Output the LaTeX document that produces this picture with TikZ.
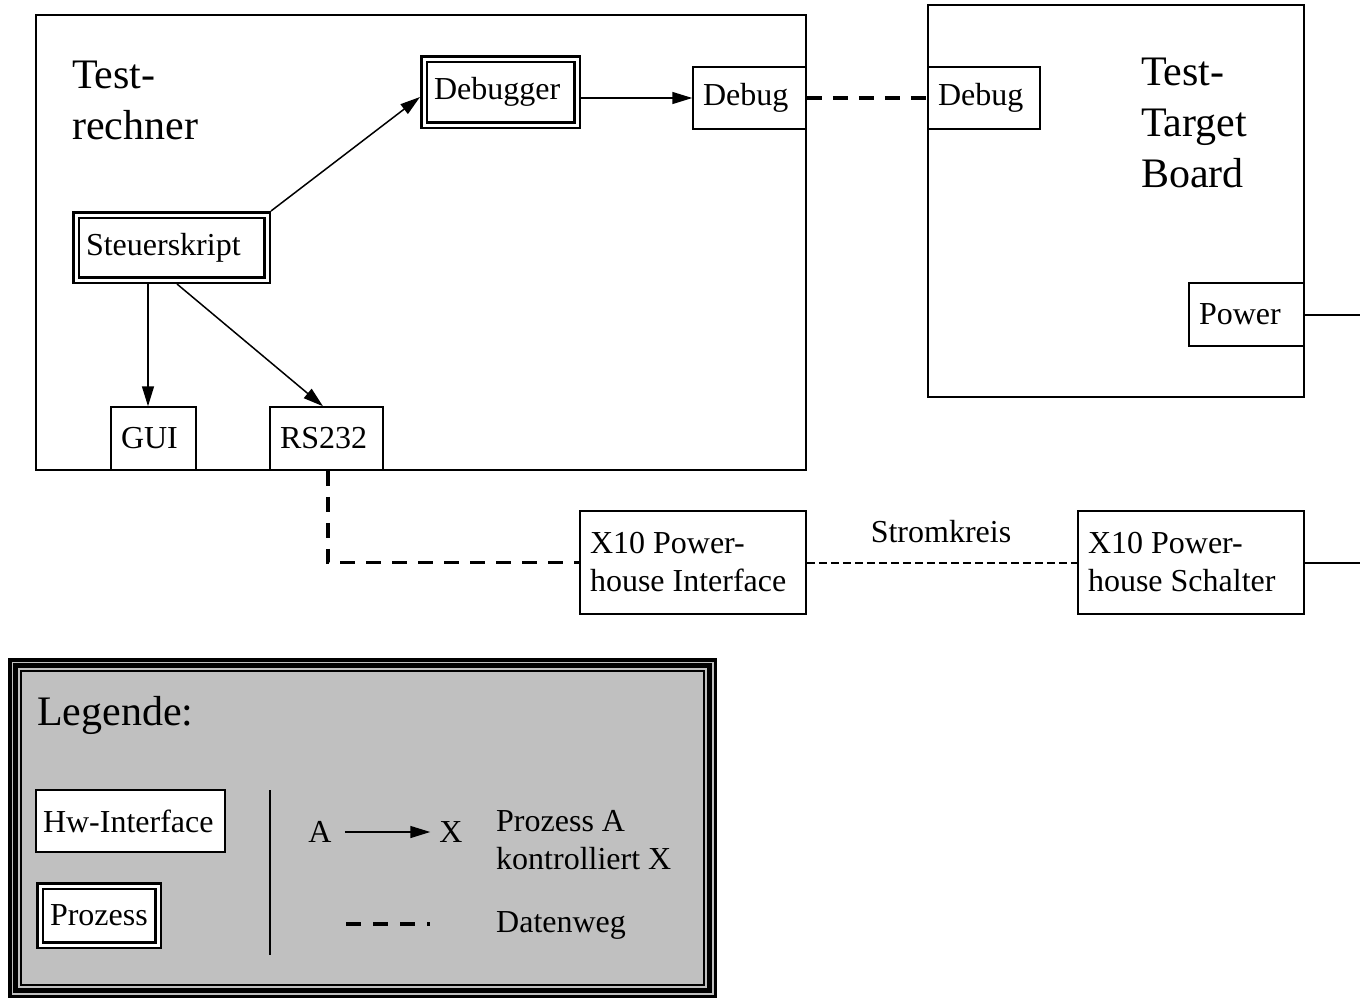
\documentclass[tikz,border=0pt]{standalone}
\usepackage{fontspec}
\setmainfont{Liberation Serif}
\usetikzlibrary{arrows.meta,calc}
\definecolor{leggray}{RGB}{192,192,192}
\tikzset{
  box/.style={draw, line width=1.5pt, fill=white, inner ysep=0pt, inner xsep=10pt, outer sep=0.75pt,
    align=flush left, font=\fontsize{32}{38}\selectfont},
  dbox/.style={draw, line width=2.5pt, double, double distance=3pt, fill=white, inner ysep=0pt, inner xsep=10pt, outer sep=4pt,
    align=flush left, font=\fontsize{32}{38}\selectfont},
  frame/.style={draw, line width=1.5pt, inner sep=0pt},
  big/.style={inner sep=0pt, align=flush left, font=\fontsize{42}{51}\selectfont},
  lbl/.style={inner sep=0pt, align=flush left, font=\fontsize{32}{38}\selectfont},
  arr/.style={line width=1.5pt, -{Triangle[length=20pt,width=12pt]}},
  data/.style={line width=3.5pt, dash pattern=on 15pt off 11pt},
  strom/.style={line width=2pt, dash pattern=on 8pt off 4pt},
  plain/.style={line width=2pt},
}
\begin{document}
\begin{tikzpicture}[x=1pt,y=-1pt]
\useasboundingbox (0,0) rectangle (1360,999);
% containers
\node[frame, minimum width=770pt, minimum height=455pt] (tr) at (421,242.5) {};
\node[frame, minimum width=376pt, minimum height=392pt] (tb) at (1116,201) {};
\node[big, anchor=west] (trl) at (72,100) {Test-\\rechner};
\node[big, anchor=west] (tbl) at (1141,123) {Test-\\Target\\Board};
% inner boxes
\node[dbox, text width=133pt, minimum height=66pt] (dbg) at (500.5,92) {Debugger};
\node[box, text width=93pt, minimum height=62pt] (dl) at (749.5,98) {Debug};
\node[box, text width=92pt, minimum height=62pt] (dr) at (984,98) {Debug};
\node[dbox, text width=171pt, minimum height=65pt] (st) at (171.5,247.5) {Steuerskript};
\node[box, text width=65pt, minimum height=63pt] (gui) at (153.5,438.5) {GUI};
\node[box, text width=93pt, minimum height=63pt] (rs) at (326.5,438.5) {RS232};
\node[box, text width=95pt, minimum height=63pt] (pw) at (1246.5,314.5) {Power};
\node[box, text width=206pt, minimum height=103pt] (xi) at (693,562.5) {X10 Power-\\house Interface};
\node[box, text width=206pt, minimum height=103pt] (xs) at (1191,562.5) {X10 Power-\\house Schalter};
\node[lbl] (sk) at (941,532) {Stromkreis};
\coordinate (pwend) at (1360,314.5);
\coordinate (xsend) at (1360,562.5);
% connectors
\draw[arr] (st.north east) -- ([yshift=-5pt]dbg.west);
\draw[arr] (dbg.east |- dl.west) -- (dl.west);
\draw[arr] ([xshift=-23.5pt]st.south) -- ([xshift=-23.5pt]st.south |- gui.north);
\draw[arr] ([xshift=5.5pt]st.south) -- ([xshift=-3.5pt]rs.north);
\draw[data] (dl.east) -- (dr.west);
\draw[data] ([xshift=1.5pt]rs.south) |- (xi.west);
\draw[strom] (xi.east) -- (xs.west);
\draw[plain] (pw.east) -- (pwend);
\draw[plain] (xs.east) -- (xsend);
% legend
\node[fill=leggray, minimum width=709pt, minimum height=340pt, inner sep=0pt] (leg) at (362.5,828) {};
\draw[line width=3.5pt] (9.75,659.75) rectangle (715.25,996.25);
\draw[line width=5pt] (15.5,665.5) rectangle (709.5,990.5);
\draw[line width=2pt] (21,671) rectangle (704,985);
\node[big, anchor=west] (legt) at (37,715) {Legende:};
\node[box, text width=175pt, inner xsep=7pt, minimum height=62pt] (hw) at (130.5,821) {\mbox{Hw-Interface}};
\node[dbox, text width=98pt, minimum height=59pt] (pz) at (99,915.5) {Prozess};
\coordinate (vl1) at (270,790);
\coordinate (vl2) at (270,955);
\draw[line width=2pt] (vl1) -- (vl2);
\node[lbl] (la) at (320,832) {A};
\node[lbl] (lx) at (451,832) {X};
\draw[arr] ([xshift=13pt]la.east) -- ([xshift=-9pt]lx.west);
\node[lbl, anchor=west] (lpa) at (496,840) {Prozess A\\kontrolliert X};
\coordinate (ld1) at (346,924);
\coordinate (ld2) at (430,924);
\draw[line width=3.5pt, dash pattern=on 15pt off 12pt] (ld1) -- (ld2);
\node[lbl, anchor=west] (ldw) at (496,925) {Datenweg};
\end{tikzpicture}
\end{document}
